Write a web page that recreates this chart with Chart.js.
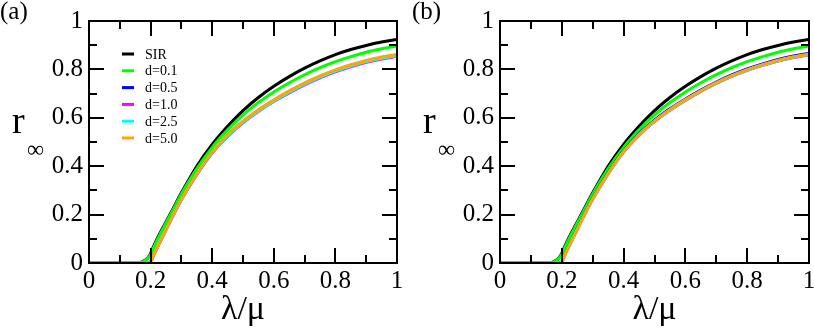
<!DOCTYPE html>
<html>
<head>
<meta charset="utf-8">
<script src="https://cdn.jsdelivr.net/npm/chart.js@4"></script>
<style>
  body { margin: 0; background: #fff; overflow: hidden; }
  #wrapA { position: absolute; left: 0; top: 0; width: 411px; height: 329px; }
  #wrapB { position: absolute; left: 411px; top: 0; width: 410px; height: 329px; }
</style>
</head>
<body>
<div id="wrapA"><canvas id="panelA" width="411" height="329"></canvas></div>
<div id="wrapB"><canvas id="panelB" width="410" height="329"></canvas></div>
<script>
// x values (lambda/mu)
const lambda = [0, 0.05, 0.1, 0.15, 0.17, 0.18, 0.19, 0.2, 0.21, 0.225, 0.25, 0.275, 0.3, 0.35, 0.4, 0.45, 0.5, 0.55, 0.6, 0.65, 0.7, 0.75, 0.8, 0.85, 0.9, 0.95, 1];

// curves shared by both panels
const sir = [0, 0, 0, 0, 0.003, 0.01, 0.02, 0.04, 0.07, 0.11, 0.17, 0.23, 0.29, 0.40, 0.49, 0.565, 0.63, 0.684, 0.73, 0.77, 0.805, 0.835, 0.861, 0.882, 0.899, 0.913, 0.924];
const d01 = [0, 0, 0, 0, 0.002, 0.008, 0.018, 0.035, 0.065, 0.105, 0.165, 0.225, 0.285, 0.39, 0.478, 0.55, 0.612, 0.663, 0.707, 0.745, 0.778, 0.807, 0.832, 0.853, 0.871, 0.885, 0.897];

// panel (a)
const d05A = [0, 0, 0, 0, 0, 0, 0, 0.005, 0.034, 0.074, 0.139, 0.203, 0.263, 0.368, 0.457, 0.527, 0.583, 0.63, 0.671, 0.708, 0.741, 0.77, 0.795, 0.816, 0.834, 0.848, 0.859];
const d10A = [0, 0, 0, 0, 0, 0, 0, 0.004, 0.033, 0.073, 0.137, 0.201, 0.261, 0.365, 0.454, 0.523, 0.579, 0.626, 0.667, 0.703, 0.736, 0.765, 0.79, 0.811, 0.829, 0.843, 0.854];
const d25A = [0, 0, 0, 0, 0, 0, 0, 0.004, 0.034, 0.074, 0.138, 0.202, 0.262, 0.367, 0.456, 0.525, 0.581, 0.628, 0.669, 0.706, 0.739, 0.768, 0.793, 0.814, 0.832, 0.846, 0.857];
const d50A = [0, 0, 0, 0, 0, 0, 0, 0.005, 0.035, 0.075, 0.14, 0.205, 0.265, 0.37, 0.46, 0.53, 0.586, 0.633, 0.674, 0.711, 0.744, 0.773, 0.798, 0.819, 0.837, 0.851, 0.862];

// panel (b)
const d05B = [0, 0, 0, 0, 0, 0, 0, 0.005, 0.036, 0.077, 0.142, 0.207, 0.268, 0.373, 0.463, 0.534, 0.59, 0.637, 0.678, 0.715, 0.748, 0.777, 0.802, 0.823, 0.841, 0.855, 0.866];
const d10B = [0, 0, 0, 0, 0, 0, 0, 0.004, 0.034, 0.074, 0.138, 0.203, 0.263, 0.368, 0.458, 0.528, 0.584, 0.631, 0.672, 0.709, 0.742, 0.771, 0.796, 0.817, 0.835, 0.849, 0.86];
const d25B = [0, 0, 0, 0, 0, 0, 0, 0.004, 0.034, 0.074, 0.139, 0.204, 0.264, 0.369, 0.459, 0.529, 0.585, 0.632, 0.673, 0.71, 0.743, 0.772, 0.797, 0.818, 0.836, 0.85, 0.861];
const d50B = [0, 0, 0, 0, 0, 0, 0, 0.005, 0.035, 0.075, 0.14, 0.205, 0.266, 0.371, 0.461, 0.531, 0.587, 0.634, 0.675, 0.712, 0.745, 0.774, 0.799, 0.82, 0.838, 0.852, 0.863];

const seriesLabels = ["SIR", "d=0.1", "d=0.5", "d=1.0", "d=2.5", "d=5.0"];
const seriesColors = ["#000000", "#00ff00", "#0000ff", "#ff00ff", "#00ffff", "#ffa500"];

const majorTicks = [0, 0.2, 0.4, 0.6, 0.8, 1];
const minorTicks = [0.1, 0.3, 0.5, 0.7, 0.9];

const serif = "Liberation Serif";

//frame, inward ticks, titles, legend
const decor = {
  id: "decor",
  afterDatasetsDraw(chart, args, opts) {
    const { ctx, chartArea: a, scales: { x, y } } = chart;
    ctx.save();
    ctx.strokeStyle = "#000";
    ctx.lineWidth = 2;
    ctx.beginPath();
    const tick = (v, len) => {
      const px = Math.round(x.getPixelForValue(v));
      const py = Math.round(y.getPixelForValue(v));
      ctx.moveTo(px, a.bottom); ctx.lineTo(px, a.bottom - len);
      ctx.moveTo(px, a.top); ctx.lineTo(px, a.top + len);
      ctx.moveTo(a.left, py); ctx.lineTo(a.left + len, py);
      ctx.moveTo(a.right, py); ctx.lineTo(a.right - len, py);
    };
    majorTicks.forEach(v => tick(v, 15));
    minorTicks.forEach(v => tick(v, 8));
    ctx.stroke();
    ctx.strokeRect(a.left, a.top, a.right - a.left, a.bottom - a.top);

    ctx.fillStyle = "#000";
    // panel letter
    ctx.font = "25px " + serif;
    ctx.textBaseline = "top";
    ctx.textAlign = "left";
    ctx.fillText(opts.tag, opts.tagX, 0);

    // y title r_inf
    ctx.textBaseline = "alphabetic";
    ctx.font = "38px " + serif;
    ctx.fillText("r", a.left - 77, 133);
    ctx.font = "24px " + serif;
    ctx.fillText("\u221e", a.left - 62, 157);

    // x title
    ctx.textAlign = "center";
    ctx.font = "34px " + serif;
    ctx.fillText("\u03bb/\u03bc", (a.left + a.right) / 2, 319);

    // legend
    if (opts.legend) {
      ctx.font = "14px " + serif;
      ctx.textAlign = "left";
      ctx.textBaseline = "middle";
      ctx.lineWidth = 3;
      seriesLabels.forEach((lab, i) => {
        const ly = 54 + i * 16.8;
        ctx.strokeStyle = seriesColors[i];
        ctx.beginPath();
        ctx.moveTo(a.left + 33, ly);
        ctx.lineTo(a.left + 45, ly);
        ctx.stroke();
        ctx.fillText(lab, a.left + 56, ly + 1);
      });
    }
    ctx.restore();
  }
};

const fmt = (v) => String(+Number(v).toFixed(1));

function makeChart(id, curves, tag, tagX, legend, padRight) {
  return new Chart(document.getElementById(id), {
    type: "line",
    plugins: [decor],
    data: {
      labels: lambda,
      datasets: curves.map((vals, i) => ({
        label: seriesLabels[i],
        data: lambda.map((l, k) => ({ x: l, y: vals[k] })),
        borderColor: seriesColors[i],
        borderWidth: 3,
        pointRadius: 0,
        cubicInterpolationMode: "monotone",
        fill: false,
        order: 5 - i
      }))
    },
    options: {
      responsive: false,
      animation: false,
      layout: { padding: { top: 18, right: padRight, left: 0, bottom: 0 } },
      plugins: {
        legend: { display: false },
        tooltip: { enabled: false },
        decor: { tag: tag, tagX: tagX, legend: legend }
      },
      scales: {
        x: {
          type: "linear",
          min: 0,
          max: 1,
          grid: { display: false, drawTicks: false },
          border: { display: false },
          ticks: {
            stepSize: 0.2,
            autoSkip: false,
            maxRotation: 0,
            padding: 3,
            color: "#000",
            font: { family: serif, size: 25, weight: "normal" },
            callback: fmt
          },
          afterFit: (s) => { s.height = 66; }
        },
        y: {
          min: 0,
          max: 1,
          grid: { display: false, drawTicks: false },
          border: { display: false },
          ticks: {
            stepSize: 0.2,
            padding: 6,
            color: "#000",
            font: { family: serif, size: 25, weight: "normal" },
            callback: fmt
          },
          afterFit: (s) => { s.width = 89; }
        }
      }
    }
  });
}

makeChart("panelA", [sir, d01, d05A, d10A, d25A, d50A], "(a)", 0, true, 14);
makeChart("panelB", [sir, d01, d05B, d10B, d25B, d50B], "(b)", 1, false, 12);
</script>
</body>
</html>
